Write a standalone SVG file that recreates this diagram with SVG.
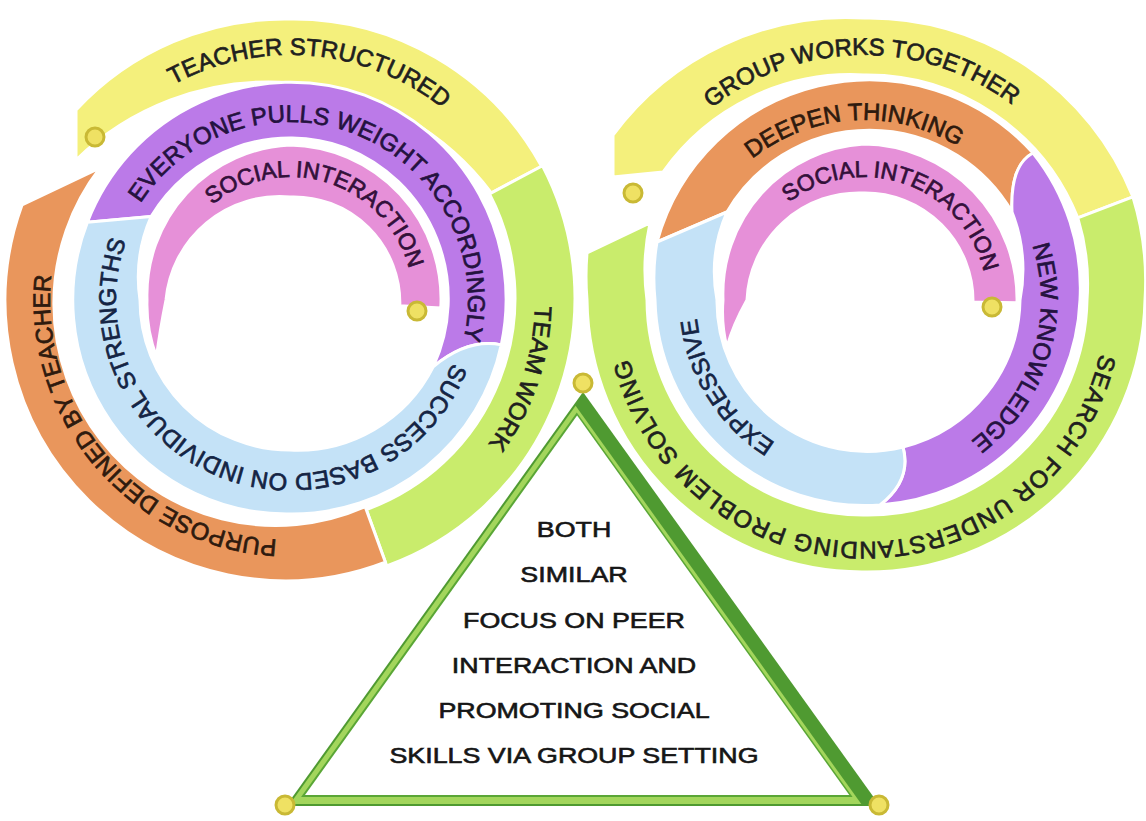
<svg xmlns="http://www.w3.org/2000/svg" width="1146" height="821" viewBox="0 0 1146 821">
<style>
.seg{stroke:#ffffff;stroke-width:3;stroke-linejoin:round}
.lbl{font-family:"Liberation Sans",Arial,sans-serif;font-size:24px;fill:#1f1f1f;stroke:#1f1f1f;stroke-width:0.7px;text-anchor:middle}
.dot{fill:#efe163;stroke:#c9b935;stroke-width:3}
.tri{font-family:"Liberation Sans",Arial,sans-serif;font-size:22px;fill:#161616;stroke:#161616;stroke-width:0.6px;text-anchor:middle}
.yel{fill:#f4f07c}.grn{fill:#c9ec6c}.org{fill:#e9965c}.pur{fill:#bb7ae8}.blu{fill:#c4e2f7}.pnk{fill:#e690d8}
</style>
<defs>
<path id="tp-ts" d="M68,403.5 A245,245 0 0 1 311.4,55.9 A245,245 0 0 1 490.7,440.5"/>
<path id="tp-ev" d="M113.3,321.7 A178,178 0 0 1 359.5,136.1 A178,178 0 0 1 397.1,442.2"/>
<path id="tp-si1" d="M169.7,325.6 A123,123 0 0 1 328,183 A123,123 0 0 1 372.3,391.4"/>
<path id="tp-sb" d="M461.6,271.3 A174,174 0 0 1 229.1,463 A174,174 0 0 1 179.3,165.7"/>
<path id="tp-tw" d="M242,59.8 A245,245 0 0 1 522.1,378.5 A245,245 0 0 1 105.9,461.7"/>
<path id="tp-pd" d="M516.2,380.1 A240,240 0 0 1 107.5,455.9 A240,240 0 0 1 246.3,64"/>
<path id="tp-gw" d="M653.1,424.7 A245,245 0 0 1 861.4,55 A245,245 0 0 1 1077.4,420.3"/>
<path id="tp-dt" d="M713.9,399.3 A180,180 0 0 1 853,120.3 A180,180 0 0 1 1025.1,380.3"/>
<path id="tp-si2" d="M743,322.2 A123,123 0 0 1 905.3,184.1 A123,123 0 0 1 943.7,393.7"/>
<path id="tp-nk" d="M825.4,127.3 A177,177 0 0 1 1032.9,352.9 A177,177 0 0 1 733.7,419.8"/>
<path id="tp-se" d="M1072.5,177.2 A242,242 0 0 1 866.1,542 A242,242 0 0 1 653.4,180.8"/>
<path id="tp-ex" d="M1012.7,378.1 A168,168 0 0 1 722,389.8 A168,168 0 0 1 857.3,132.1"/>
</defs>
<rect width="1146" height="821" fill="#ffffff"/>

<g id="left-teacher-structured">
<path class="seg yel" d="M76,110 A285,285 0 0 1 290,19 A283,283 0 0 1 541.6,166.2 L491.3,193 A278,278 0 0 0 76,160 Z"/>
<text class="lbl"><textPath href="#tp-ts" startOffset="50%">TEACHER STRUCTURED</textPath></text>
</g>
<g id="left-team-work">
<path class="seg grn" d="M542.5,165.7 A285,285 0 0 1 386.8,565.9 L366.3,509.6 A225,225 0 0 0 489.5,193.9 Z"/>
<text class="lbl"><textPath href="#tp-tw" startOffset="50%">TEAM WORK</textPath></text>
</g>
<g id="left-purpose-defined">
<path class="seg org" d="M385.4,562.2 A280,280 0 0 1 22,205 L100,168 A222,222 0 0 0 365.2,506.7 Z"/>
<text class="lbl" style="fill:#2e1a0e;stroke:#2e1a0e"><textPath href="#tp-pd" startOffset="50%">PURPOSE DEFINED BY TEACHER</textPath></text>
</g>
<g id="left-everyone-pulls">
<path class="seg pur" d="M87.4,222.2 A218,218 0 0 1 364.6,95.1 A218,218 0 0 1 501.3,344.9 Q468,338 433.2,366.8 A162,162 0 0 0 345.4,147.8 A162,162 0 0 0 151.1,216.6 Z"/>
<text class="lbl" style="fill:#24123f;stroke:#24123f"><textPath href="#tp-ev" startOffset="50%">EVERYONE PULLS WEIGHT ACCORDINGLY</textPath></text>
</g>
<g id="left-success-based">
<path class="seg blu" d="M433.2,366.8 Q468,338 501.3,344.9 A214,214 0 0 1 290,514 A214,214 0 0 1 87.4,222.2 L151.1,216.6 A152,152 0 0 0 140,300 A150,150 0 0 0 290,450 A152,152 0 0 0 433.2,366.8 Z"/>
<text class="lbl" style="fill:#142444;stroke:#142444"><textPath href="#tp-sb" startOffset="50%">SUCCESS BASED ON INDIVIDUAL STRENGTHS</textPath></text>
</g>
<g id="left-social-interaction">
<path class="seg pnk" d="M156.5,356.7 A145,145 0 0 1 147,300 A150,150 0 0 1 290,145 A154,154 0 0 1 440.8,307.9 L399.8,305.8 A106,106 0 0 0 290,197 A114,114 0 0 0 166,300 Q160,330 156.5,356.7 Z"/>
<text class="lbl" style="font-size:23px;fill:#33103a;stroke:#33103a"><textPath href="#tp-si1" startOffset="50%">SOCIAL INTERACTION</textPath></text>
</g>

<g id="right-group-works">
<path class="seg yel" d="M613,135 A290,290 0 0 1 864,18 A284,284 0 0 1 1132.9,196.8 L1077.8,217.9 A227,227 0 0 0 864,75 A230,230 0 0 0 663,172 L613,177 Z"/>
<text class="lbl"><textPath href="#tp-gw" startOffset="50%">GROUP WORKS TOGETHER</textPath></text>
</g>
<g id="right-search">
<path class="seg grn" d="M1132.9,196.8 A285,285 0 0 1 1145,300 A278,278 0 0 1 864,572 A275,275 0 0 1 587,300 A279,279 0 0 1 587,253 L650,223 A220,220 0 0 0 647,300 A216,216 0 0 0 864,515 A219,219 0 0 0 1087,300 A226,226 0 0 0 1077.8,217.9 Z"/>
<text class="lbl" style="letter-spacing:1px"><textPath href="#tp-se" startOffset="50%">SEARCH FOR UNDERSTANDING PROBLEM SOLVING</textPath></text>
</g>
<g id="right-deepen-thinking">
<path class="seg org" d="M657,242 A220,220 0 0 1 1033,153 Q1010,165 1012,212 A165,165 0 0 0 727,212 Z"/>
<text class="lbl" style="fill:#2e1a0e;stroke:#2e1a0e"><textPath href="#tp-dt" startOffset="50%">DEEPEN THINKING</textPath></text>
</g>
<g id="right-new-knowledge">
<path class="seg pur" d="M1033,153 A216,216 0 0 1 1080,300 A214,214 0 0 1 880,505 Q912,480 903,447 A154,154 0 0 0 1020,300 A160,160 0 0 0 1012,212 Q1010,165 1033,153 Z"/>
<text class="lbl" style="fill:#24123f;stroke:#24123f"><textPath href="#tp-nk" startOffset="50%">NEW KNOWLEDGE</textPath></text>
</g>
<g id="right-expressive">
<path class="seg blu" d="M880,505 A210,210 0 0 1 655,300 A210,210 0 0 1 657,242 L727,212 A150,150 0 0 0 717,300 A150,150 0 0 0 903,447 Q912,480 880,505 Z"/>
<text class="lbl" style="fill:#142444;stroke:#142444"><textPath href="#tp-ex" startOffset="50%">EXPRESSIVE</textPath></text>
</g>
<g id="right-social-interaction">
<path class="seg pnk" d="M726.9,347.2 A145,145 0 0 1 723,300 A150,150 0 0 1 864,144 A155,155 0 0 1 1017,302.7 L973,301.9 A108,108 0 0 0 864,193 A112,112 0 0 0 747,300 Q733,325 726.9,347.2 Z"/>
<text class="lbl" style="font-size:23px;fill:#33103a;stroke:#33103a"><textPath href="#tp-si2" startOffset="50%">SOCIAL INTERACTION</textPath></text>
</g>

<g id="both-similar">
<polygon fill="#4f9a31" points="583,392 286,806 880,806"/>
<polygon fill="#a3d65c" points="575.6,405.7 289.9,804 861.3,804"/>
<polygon fill="#5aa636" points="576.8,412.6 301.1,797 852.6,797"/>
<polygon fill="#ffffff" points="577.1,415.6 305,795 849.3,795"/>
<g transform="translate(574 0) scale(1.22 1)">
<text class="tri" x="0" y="537">BOTH</text>
<text class="tri" x="0" y="582">SIMILAR</text>
<text class="tri" x="0" y="628">FOCUS ON PEER</text>
<text class="tri" x="0" y="673">INTERACTION AND</text>
<text class="tri" x="0" y="718">PROMOTING SOCIAL</text>
<text class="tri" x="0" y="763">SKILLS VIA GROUP SETTING</text>
</g>
</g>

<g id="connectors"/>

<g id="dots">
<circle class="dot" cx="95" cy="137" r="9"/>
<circle class="dot" cx="417" cy="311" r="9"/>
<circle class="dot" cx="633" cy="193" r="9"/>
<circle class="dot" cx="992" cy="307" r="9"/>
<circle class="dot" cx="583" cy="383" r="9"/>
<circle class="dot" cx="285" cy="805" r="9"/>
<circle class="dot" cx="879" cy="805" r="9"/>
</g>
</svg>
